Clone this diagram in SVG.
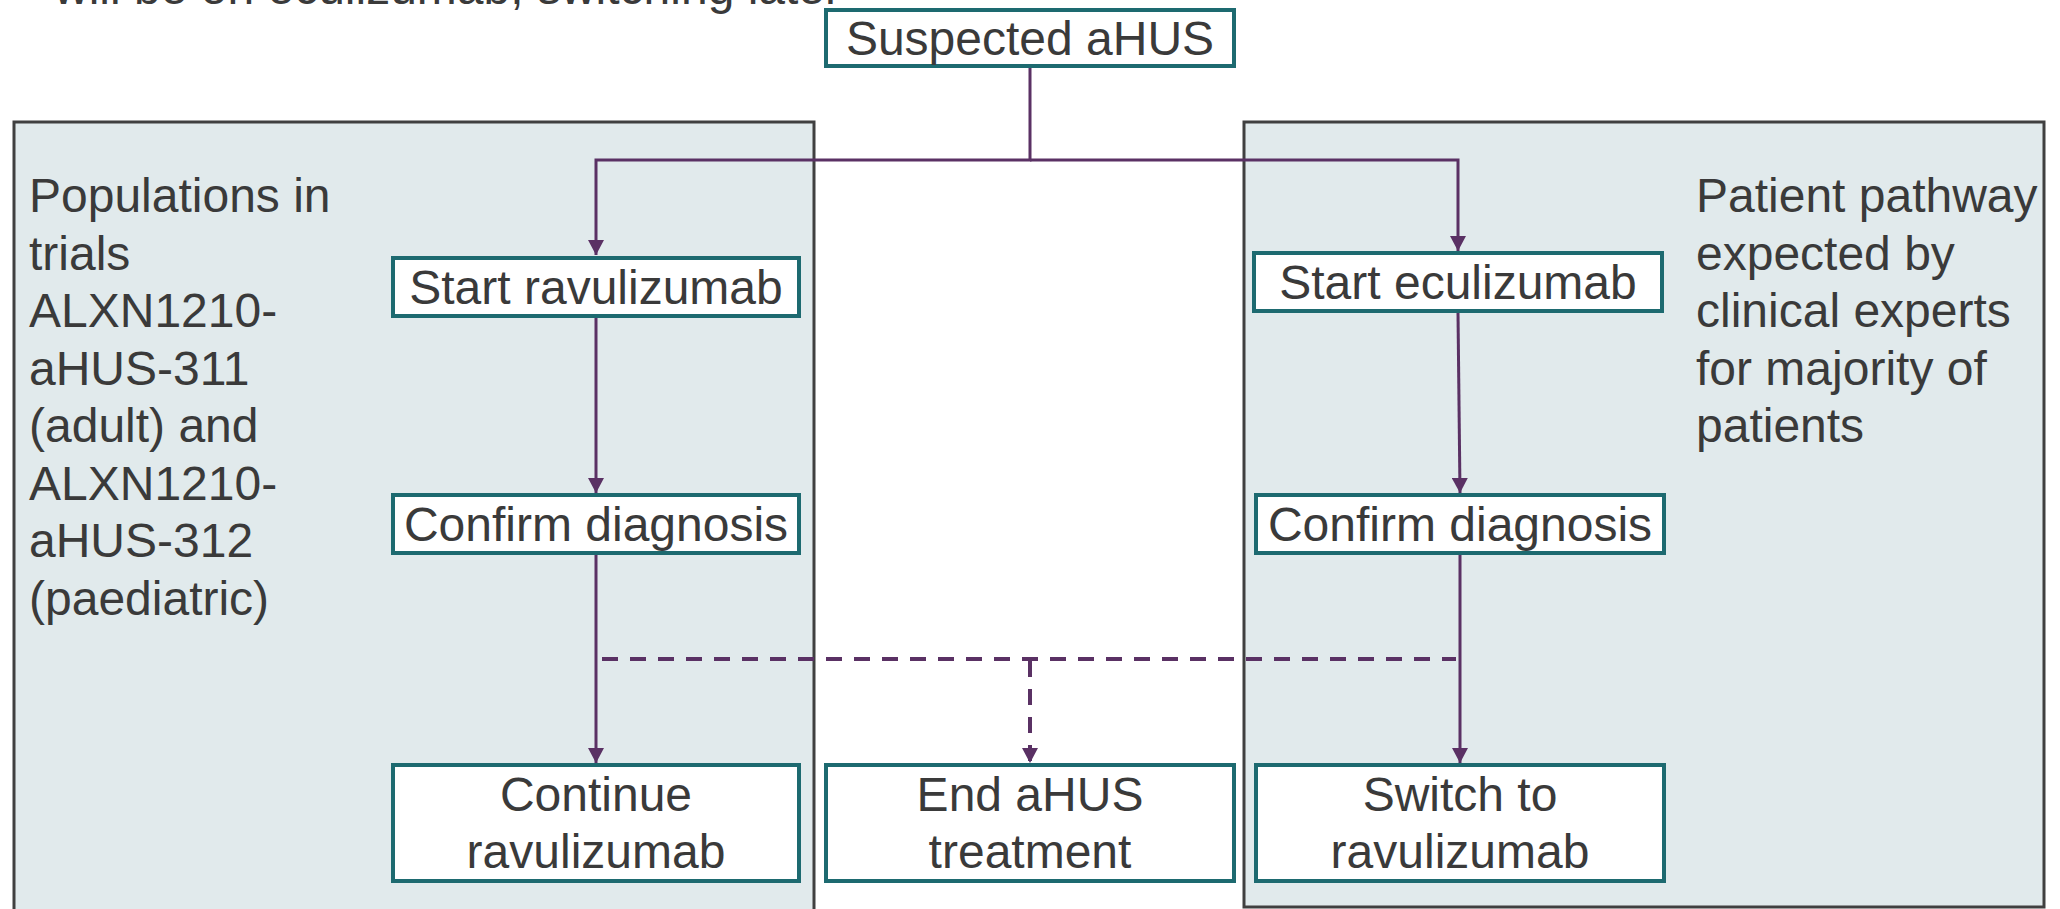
<svg xmlns="http://www.w3.org/2000/svg" width="2060" height="909" viewBox="0 0 2060 909">
<style>
text{font-family:"Liberation Sans",Arial,sans-serif;font-size:48px;fill:#3a3a3a}
.c{text-anchor:middle}
.panel{fill:#e1eaec;stroke:#404040;stroke-width:3}
.box{fill:#ffffff;stroke:#1d6a70;stroke-width:4}
.ln{fill:none;stroke:#5a3164;stroke-width:3}
.dash{fill:none;stroke:#5a3164;stroke-width:4;stroke-dasharray:16 12}
</style>
<defs>
<marker id="arr" viewBox="0 0 15 16" refX="15" refY="8" markerWidth="15" markerHeight="16" markerUnits="userSpaceOnUse" orient="auto">
<path d="M0,0 L15,8 L0,16 z" fill="#5a3164"/>
</marker>
</defs>
<text x="54" y="4">will be on eculizumab, switching later</text>
<g id="panel-left">
<rect class="panel" x="14" y="122" width="800" height="800"/>
<text x="29" y="212">Populations in</text>
<text x="29" y="269.5">trials</text>
<text x="29" y="327">ALXN1210-</text>
<text x="29" y="384.5">aHUS-311</text>
<text x="29" y="442">(adult) and</text>
<text x="29" y="499.5">ALXN1210-</text>
<text x="29" y="557">aHUS-312</text>
<text x="29" y="614.5">(paediatric)</text>
</g>
<g id="panel-right">
<rect class="panel" x="1244" y="122" width="800" height="785"/>
<text x="1696" y="212">Patient pathway</text>
<text x="1696" y="269.5">expected by</text>
<text x="1696" y="327">clinical experts</text>
<text x="1696" y="384.5">for majority of</text>
<text x="1696" y="442">patients</text>
</g>
<g id="connectors">
<path class="ln" d="M1030 68 V160 H596 V255" marker-end="url(#arr)"/>
<path class="ln" d="M1030 160 H1458 V251" marker-end="url(#arr)"/>
<path class="ln" d="M596 318 V493" marker-end="url(#arr)"/>
<path class="ln" d="M1458 313 L1460 493" marker-end="url(#arr)"/>
<path class="ln" d="M596 555 V763" marker-end="url(#arr)"/>
<path class="ln" d="M1460 555 V763" marker-end="url(#arr)"/>
<path class="dash" d="M602 659 H1456"/>
<path class="dash" d="M1030 661 V763" marker-end="url(#arr)"/>
</g>
<g id="n-suspected">
<rect class="box" x="826" y="10" width="408" height="56"/>
<text class="c" x="1030" y="55">Suspected aHUS</text>
</g>
<g id="n-start-rav">
<rect class="box" x="393" y="258" width="406" height="58"/>
<text class="c" x="596" y="304">Start ravulizumab</text>
</g>
<g id="n-start-ecu">
<rect class="box" x="1254" y="253" width="408" height="58"/>
<text class="c" x="1458" y="299">Start eculizumab</text>
</g>
<g id="n-confirm-left">
<rect class="box" x="393" y="495" width="406" height="58"/>
<text class="c" x="596" y="541">Confirm diagnosis</text>
</g>
<g id="n-confirm-right">
<rect class="box" x="1256" y="495" width="408" height="58"/>
<text class="c" x="1460" y="541">Confirm diagnosis</text>
</g>
<g id="n-continue">
<rect class="box" x="393" y="765" width="406" height="116"/>
<text class="c" x="596" y="811">Continue</text>
<text class="c" x="596" y="868">ravulizumab</text>
</g>
<g id="n-end">
<rect class="box" x="826" y="765" width="408" height="116"/>
<text class="c" x="1030" y="811">End aHUS</text>
<text class="c" x="1030" y="868">treatment</text>
</g>
<g id="n-switch">
<rect class="box" x="1256" y="765" width="408" height="116"/>
<text class="c" x="1460" y="811">Switch to</text>
<text class="c" x="1460" y="868">ravulizumab</text>
</g>
</svg>
